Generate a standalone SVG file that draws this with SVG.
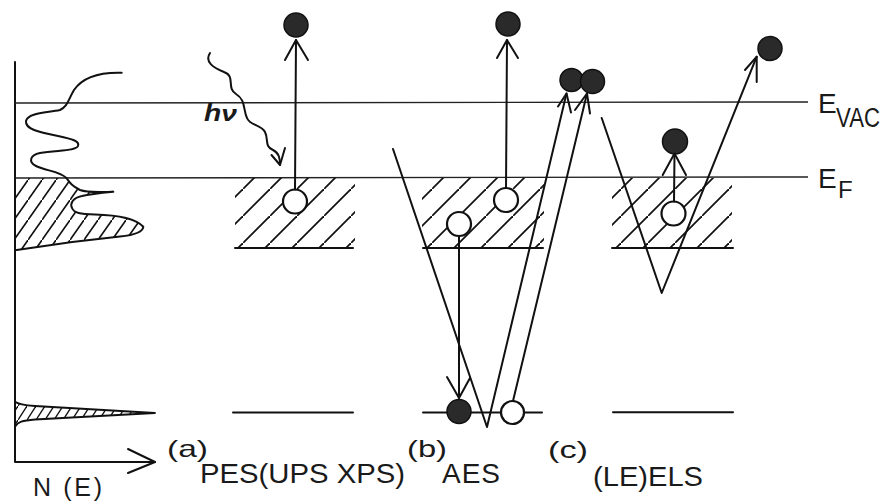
<svg xmlns="http://www.w3.org/2000/svg" width="888" height="501" viewBox="0 0 888 501">
<style>
.ln{stroke:#111;stroke-width:2;fill:none;stroke-linecap:round;stroke-linejoin:round}
.lv{stroke:#222;stroke-width:1.4;fill:none}
.fc{fill:#2a2a2a;stroke:#111;stroke-width:1.5}
.oc{fill:#fff;stroke:#111;stroke-width:2.2}
.t{font-family:"Liberation Sans",Arial,sans-serif;fill:#1a1a1a}
</style>
<defs>
<pattern id="h45" patternUnits="userSpaceOnUse" width="27" height="27">
<path d="M-1,28 L28,-1" stroke="#111" stroke-width="1.8"/>
</pattern>
<pattern id="hdos" patternUnits="userSpaceOnUse" width="14" height="20">
<path d="M-0.7,21 L14.7,-1" stroke="#111" stroke-width="1.6"/>
</pattern>
<pattern id="hcore" patternUnits="userSpaceOnUse" width="9" height="14">
<path d="M-0.5,14.7 L9.5,-0.7" stroke="#111" stroke-width="1.4"/>
</pattern>
<clipPath id="cdos"><path d="M15,178 L66.7,178 C70,183 72,186 80,190 C88,193 100,192 113.3,191.7 C100,193 90,194 82,196 C72,198 70,204 72,208 C74,213 80,214 95,214.5 C115,215 135,218 143.3,226.7 C143,232 135,235 120,236.5 C95,239 60,243 16.7,250 L15,250 Z"/></clipPath>
</defs>

<g id="axes">
<path class="ln" d="M15,62 L15,462 L155,462"/>
<path class="ln" d="M128,449 L155,462 L128,473"/>
</g>

<g id="levels">
<line class="lv" x1="15" y1="103" x2="808" y2="102"/>
<line class="lv" x1="15" y1="178" x2="808" y2="177"/>
</g>

<g id="dos">
<rect x="15" y="178" width="130" height="75" fill="url(#hdos)" clip-path="url(#cdos)"/>
<path class="ln" d="M121.7,72.7 C98,72 82,78 74,90 C68,100 68,106 60,110 C45,113 28,113 26,121 C25,129 38,132 58,136 C72,139 80,141 78,146 C76,151 58,150 40,153 C30,155 28,162 36,166 C46,171 60,171 66.7,178.3 C70,183 72,186 80,190 C88,193 100,192 113.3,191.7 C100,193 90,194 82,196 C72,198 70,204 72,208 C74,213 80,214 95,214.5 C115,215 135,218 143.3,226.7 C143,232 135,235 120,236.5 C95,239 60,243 16.7,250"/>
<path d="M15,401.7 C18,404 22,405 35,406 L155,413 L35,419.5 C22,420.5 18,422 15,426.7 Z" fill="url(#hcore)" stroke="#111" stroke-width="1.8" stroke-linejoin="round"/>
</g>

<g id="panel-a">
<rect x="235" y="178" width="120" height="70" fill="url(#h45)"/>
<line class="ln" x1="235" y1="248" x2="353" y2="248"/>
<line class="ln" x1="233" y1="412.5" x2="353" y2="412.5"/>
<circle class="oc" cx="295" cy="201.5" r="12"/>
<circle class="fc" cx="296" cy="25" r="12"/>
<text class="t" x="204" y="121" font-size="23" font-style="italic" font-weight="bold" textLength="33" lengthAdjust="spacingAndGlyphs">hν</text>
</g>

<g id="panel-b">
<rect x="422" y="178" width="122" height="70" fill="url(#h45)"/>
<line class="ln" x1="423" y1="248" x2="543" y2="248"/>
<line class="ln" x1="423" y1="412.5" x2="542" y2="412.5"/>
<circle class="oc" cx="459" cy="224" r="12"/>
<circle class="oc" cx="506" cy="200" r="12"/>
<circle class="fc" cx="508" cy="24" r="12"/>
<circle class="fc" cx="459" cy="411.5" r="12"/>
<circle class="oc" cx="512.5" cy="412.5" r="11.5"/>
<circle class="fc" cx="571.5" cy="80" r="11.5"/>
<circle class="fc" cx="592.5" cy="81.5" r="12"/>
</g>

<g id="panel-c">
<rect x="612" y="178" width="120" height="70" fill="url(#h45)"/>
<line class="ln" x1="612" y1="248" x2="733" y2="248"/>
<line class="ln" x1="613" y1="412.3" x2="733" y2="412.3"/>
<circle class="oc" cx="673.5" cy="213.5" r="12"/>
<circle class="fc" cx="675" cy="141.5" r="12.5"/>
<circle class="fc" cx="770" cy="48.5" r="12"/>
</g>

<g id="connectors">
<path class="ln" d="M295,189.5 L296,40"/>
<path class="ln" d="M285,60 L296,40 L308,60"/>
<path class="ln" d="M210,53 C204,62 214,68 224,72 C236,76 226,88 236,94 C246,100 243,110 247,118 C250,126 261,124 265,132 C269,140 264,146 273,150 C279,153 280,158 280,165"/>
<path class="ln" d="M271.5,155 L280,165 L285,148"/>
<path class="ln" d="M506,188 L507,40"/>
<path class="ln" d="M497,58 L507,40 L518,58"/>
<path class="ln" d="M459,236 L459,398"/>
<path class="ln" d="M447,377 L459,398 L470,378"/>
<path class="ln" d="M393,149 L487,427 L566.5,93.5"/>
<path class="ln" d="M558,106.5 L566.5,93.5 L571,112.5"/>
<path class="ln" d="M513,401 L587,93.5"/>
<path class="ln" d="M575,110 L587,93.5 L590,113.5"/>
<path class="ln" d="M601.7,118 L661.7,293 L756.7,56.7"/>
<path class="ln" d="M745,70 L756.7,56.7 L756.7,82"/>
<path class="ln" d="M674,201.5 L674.5,154"/>
<path class="ln" d="M662.7,175 L674.5,153.5 L686,175"/>
</g>

<g id="labels">
<text class="t" x="818" y="113" font-size="28">E</text>
<text class="t" x="836" y="126.5" font-size="27" textLength="44" lengthAdjust="spacingAndGlyphs">VAC</text>
<text class="t" x="818" y="188.3" font-size="28">E</text>
<text class="t" x="838" y="198" font-size="24">F</text>
<text class="t" x="33" y="496" font-size="25" textLength="69" lengthAdjust="spacing">N (E)</text>
<text class="t" x="167" y="457" font-size="24" textLength="41" lengthAdjust="spacingAndGlyphs">(a)</text>
<text class="t" x="200" y="483" font-size="28" textLength="205" lengthAdjust="spacingAndGlyphs">PES(UPS XPS)</text>
<text class="t" x="407" y="457" font-size="24" textLength="40" lengthAdjust="spacingAndGlyphs">(b)</text>
<text class="t" x="442" y="483" font-size="28" textLength="58" lengthAdjust="spacing">AES</text>
<text class="t" x="548" y="458" font-size="24" textLength="40" lengthAdjust="spacingAndGlyphs">(c)</text>
<text class="t" x="593" y="485.5" font-size="28" textLength="110" lengthAdjust="spacingAndGlyphs">(LE)ELS</text>
</g>
</svg>
